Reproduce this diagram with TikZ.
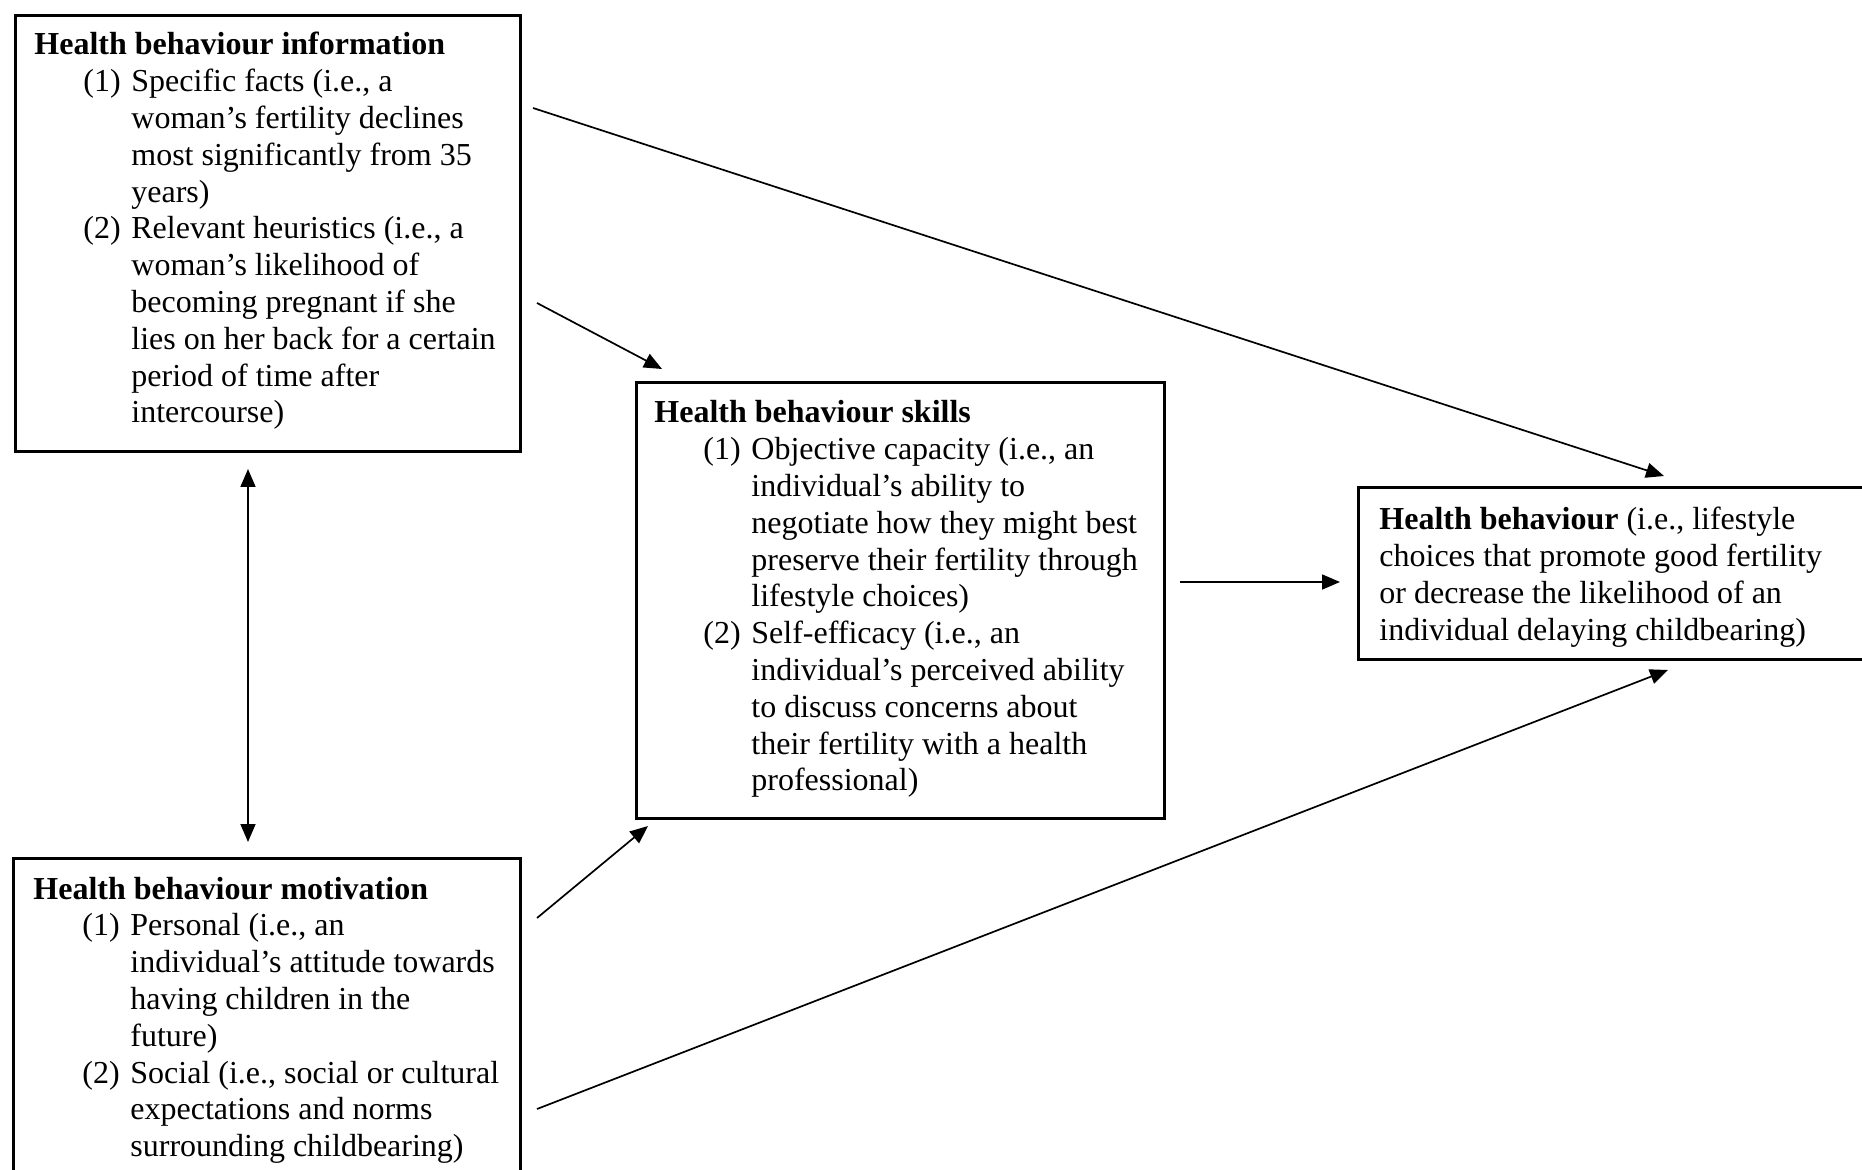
\documentclass[tikz,border=0pt]{standalone}
\usepackage{fontspec}
\setmainfont{Liberation Serif}
\usetikzlibrary{arrows.meta}
\tikzset{
  boxnode/.style={draw=black, line width=1.3pt, rectangle, inner sep=0pt, anchor=north west},
  txt/.style={anchor=base west, inner sep=0pt, font=\fontsize{16}{18.4}\selectfont},
  arr/.style={line width=0.85pt, -{Triangle[length=9pt,width=7.5pt]}},
  darr/.style={line width=0.85pt, {Triangle[length=9pt,width=7.5pt]}-{Triangle[length=9pt,width=7.5pt]}}
}
\newcommand{\itemlab}[1]{\hspace*{24.5pt}\makebox[24pt][l]{#1}}
\newcommand{\itemcont}{\hspace*{48.5pt}}
\begin{document}
\begin{tikzpicture}[x=0.5pt,y=-0.5pt]
\useasboundingbox (0,0) rectangle (1862,1170);
\clip (0,0) rectangle (1862,1170);
\fill[white] (0,0) rectangle (1862,1170);

% boxes
\node[boxnode, minimum width=252.5pt, minimum height=218pt] (info) at (14,14) {};
\node[boxnode, minimum width=264pt, minimum height=218pt] (skills) at (635,381) {};
\node[boxnode, minimum width=300pt, minimum height=86pt] (behav) at (1357,486) {};
\node[boxnode, minimum width=253.5pt, minimum height=200pt] (motiv) at (12,857) {};

% texts
\node[txt] (infotxt) at (34,55) {\begin{tabular}[t]{@{}l@{}}
\textbf{Health behaviour information}\\
\itemlab{(1)}Specific facts (i.e., a\\
\itemcont woman’s fertility declines\\
\itemcont most significantly from 35\\
\itemcont years)\\
\itemlab{(2)}Relevant heuristics (i.e., a\\
\itemcont woman’s likelihood of\\
\itemcont becoming pregnant if she\\
\itemcont lies on her back for a certain\\
\itemcont period of time after\\
\itemcont intercourse)
\end{tabular}};

\node[txt] (skillstxt) at (654,423) {\begin{tabular}[t]{@{}l@{}}
\textbf{Health behaviour skills}\\
\itemlab{(1)}Objective capacity (i.e., an\\
\itemcont individual’s ability to\\
\itemcont negotiate how they might best\\
\itemcont preserve their fertility through\\
\itemcont lifestyle choices)\\
\itemlab{(2)}Self-efficacy (i.e., an\\
\itemcont individual’s perceived ability\\
\itemcont to discuss concerns about\\
\itemcont their fertility with a health\\
\itemcont professional)
\end{tabular}};

\node[txt] (behavtxt) at (1379,530) {\begin{tabular}[t]{@{}l@{}}
\textbf{Health behaviour} (i.e., lifestyle\\
choices that promote good fertility\\
or decrease the likelihood of an\\
individual delaying childbearing)
\end{tabular}};

\node[txt] (motivtxt) at (33,899) {\begin{tabular}[t]{@{}l@{}}
\textbf{Health behaviour motivation}\\
\itemlab{(1)}Personal (i.e., an\\
\itemcont individual’s attitude towards\\
\itemcont having children in the\\
\itemcont future)\\
\itemlab{(2)}Social (i.e., social or cultural\\
\itemcont expectations and norms\\
\itemcont surrounding childbearing)
\end{tabular}};

% connector end points
\coordinate (a1s) at (533,108);
\coordinate (a1e) at (1664,476);
\coordinate (a2s) at (537,303);
\coordinate (a2e) at (662,369);
\coordinate (a3s) at (248,469);
\coordinate (a3e) at (248,842);
\coordinate (a4s) at (1180,582);
\coordinate (a4e) at (1340,582);
\coordinate (a5s) at (537,918);
\coordinate (a5e) at (648,826);
\coordinate (a6s) at (537,1109);
\coordinate (a6e) at (1668,670);

\draw[arr] (a1s) -- (a1e);
\draw[arr] (a2s) -- (a2e);
\draw[darr] (a3s) -- (a3e);
\draw[arr] (a4s) -- (a4e);
\draw[arr] (a5s) -- (a5e);
\draw[arr] (a6s) -- (a6e);
\end{tikzpicture}
\end{document}
